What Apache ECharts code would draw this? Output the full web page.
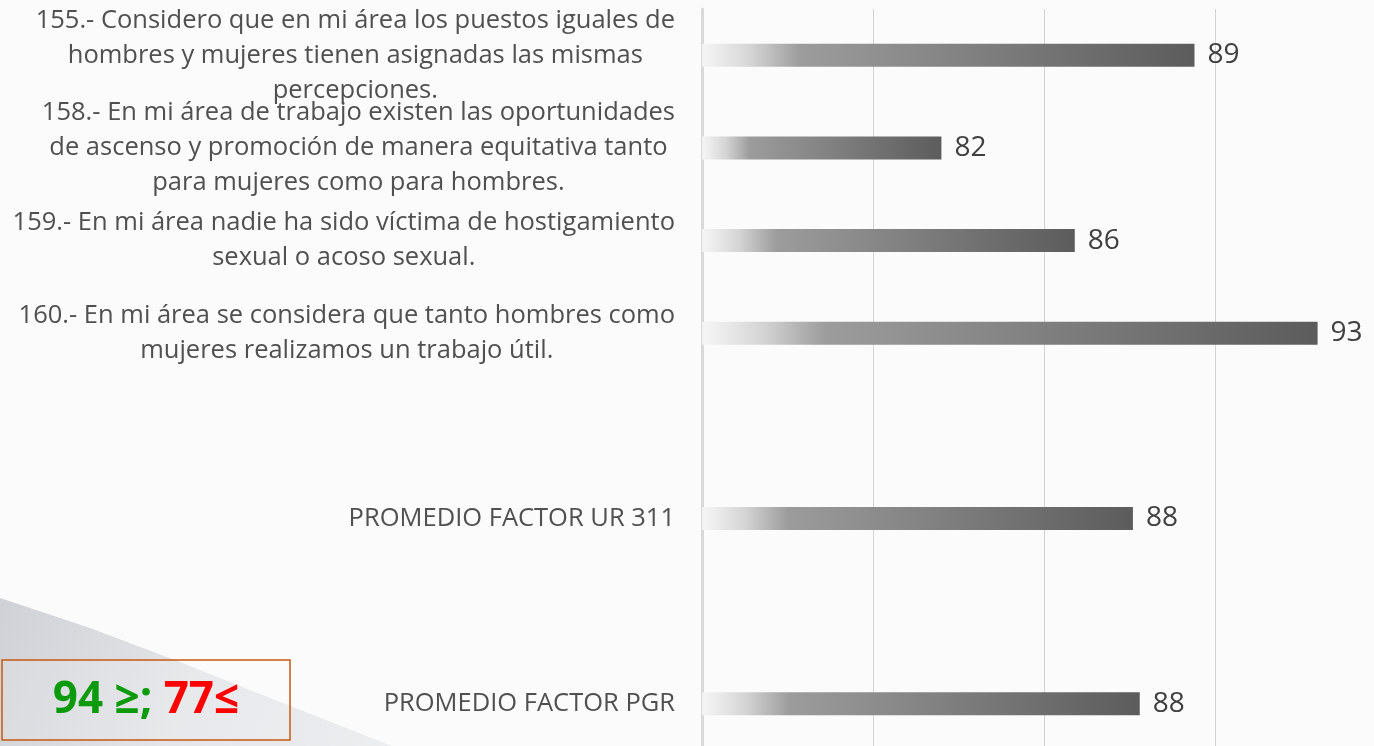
<!DOCTYPE html>
<html>
<head>
<meta charset="utf-8">
<script src="https://cdn.jsdelivr.net/npm/echarts@6/dist/echarts.min.js"></script>
<style>
  html, body { margin: 0; padding: 0; background: #fbfbfb; }
  #chart { width: 1374px; height: 746px; }
</style>
</head>
<body>
<div id="chart"></div>
<script>
    'use strict';

    // reactivos y promedios (de arriba hacia abajo), dos huecos vacíos
    var categorias = [
        '155.- Considero que en mi área los puestos iguales de\nhombres y mujeres tienen asignadas las mismas\npercepciones.',
        '158.- En mi área de trabajo existen las oportunidades\nde ascenso y promoción de manera equitativa tanto\npara mujeres como para hombres.',
        '159.- En mi área nadie ha sido víctima de hostigamiento\nsexual o acoso sexual.',
        '160.- En mi área se considera que tanto hombres como\nmujeres realizamos un trabajo útil.',
        '',
        'PROMEDIO FACTOR UR 311',
        ' ',
        'PROMEDIO FACTOR PGR'
    ];
    var valores = [89.4, 82.0, 85.9, 93.0, '-', 87.6, '-', 87.8];
    var rangoTexto = ['94 ≥; ', '77≤'];

    var fuente = '"Open Sans", "Noto Sans", sans-serif';
    var mychart = echarts.init(document.getElementById('chart'));

    function degradado(x2, y2, stops) {
        return { type: 'linear', x: 0, y: 0, x2: x2, y2: y2, colorStops: stops };
    }

    var barColor = degradado(1, 0, [
        { offset: 0, color: 'rgba(245,245,245,0.9)' },
        { offset: 0.1, color: '#d4d4d4' },
        { offset: 0.2, color: '#9c9c9c' },
        { offset: 1, color: '#5c5c5c' }
    ]);

    mychart.setOption({
        backgroundColor: '#fbfbfb',
        animation: false,
        graphic: [
            {
                type: 'polygon',
                z: -10,
                shape: { points: [[0, 598], [90, 628], [180, 662], [270, 698], [392, 746], [0, 746]] },
                style: {
                    fill: degradado(1, 1, [
                        { offset: 0, color: '#cfd1d6' },
                        { offset: 0.5, color: '#e3e5e8' },
                        { offset: 1, color: '#eceef0' }
                    ])
                }
            },
            {
                type: 'rect',
                shape: { x: 2, y: 660, width: 288, height: 80 },
                style: { fill: 'rgba(255,255,255,0.15)', stroke: '#c55a11', lineWidth: 1.5 }
            },
            {
                type: 'text',
                x: 146, y: 700,
                style: {
                    text: '{g|' + rangoTexto[0] + '}{r|' + rangoTexto[1] + '}',
                    align: 'center',
                    verticalAlign: 'middle',
                    rich: {
                        g: { fontFamily: fuente, fontWeight: 'bold', fontSize: 44, fill: '#0a9a0a' },
                        r: { fontFamily: fuente, fontWeight: 'bold', fontSize: 44, fill: '#ff0000' }
                    }
                }
            }
        ],
        grid: { left: 702, top: 9, width: 684, height: 741, outerBoundsMode: 'none', containLabel: false },
        xAxis: {
            type: 'value',
            min: 75,
            max: 95,
            interval: 5,
            axisLabel: { show: false },
            axisLine: { show: false },
            axisTick: { show: false },
            splitLine: { lineStyle: { color: '#d4d4d4', width: 1 } }
        },
        yAxis: {
            type: 'category',
            inverse: true,
            data: categorias,
            axisTick: { show: false },
            axisLine: { lineStyle: { color: '#d9d9d9', width: 3 } },
            axisLabel: {
                margin: 27,
                interval: 0,
                formatter: function (v) {
                    return v.trim() ? '{c|' + v + '}' : '';
                },
                rich: {
                    c: {
                        align: 'center',
                        fontFamily: fuente,
                        fontSize: 25.5,
                        lineHeight: 35,
                        color: '#505050'
                    }
                }
            }
        },
        series: [{
            type: 'bar',
            data: valores,
            barWidth: 23,
            itemStyle: { color: barColor },
            label: {
                show: true,
                position: 'right',
                distance: 13,
                fontFamily: fuente,
                fontSize: 28,
                color: '#404040',
                formatter: function (p) { return Math.round(p.value); }
            }
        }]
    });
</script>
</body>
</html>
